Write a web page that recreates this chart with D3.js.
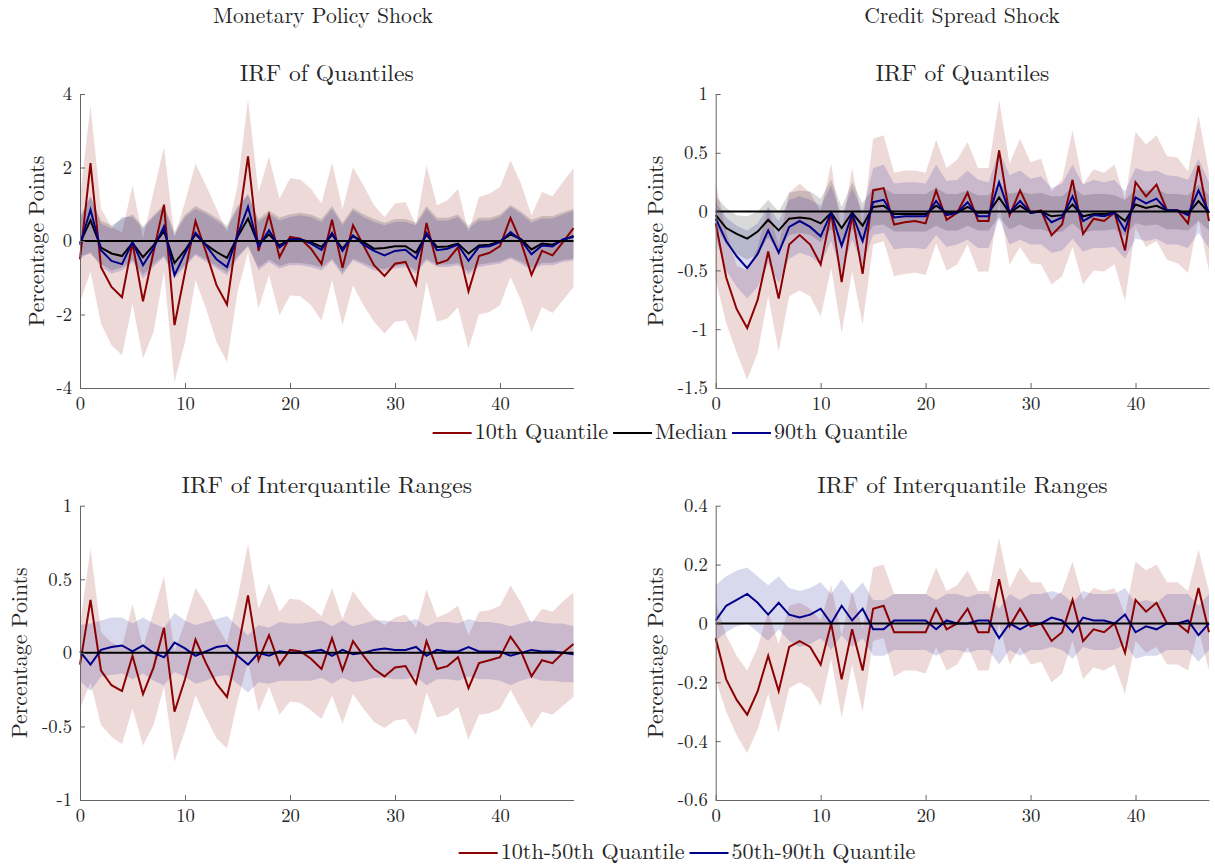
<!DOCTYPE html>
<html>
<head>
<meta charset="utf-8">
<script src="https://cdn.jsdelivr.net/npm/d3@7"></script>
<style>
  body { margin: 0; background: #fff; }
</style>
</head>
<body>
<svg id="chart" width="1215" height="867"></svg>
<script>
// horizons 0..47
const horizon = d3.range(48);

// --- Monetary policy shock: IRF of quantiles ---
const mpQ10 = [-0.5, 2.12, -0.71, -1.25, -1.53, -0.05, -1.64, -0.3, 0.99, -2.29, -0.85, 0.54, -0.3, -1.2, -1.73, 0.29, 2.3, -0.27, 0.72, -0.44, 0.11, 0.06, -0.21, -0.62, 0.58, -0.73, 0.43, -0.12, -0.66, -0.95, -0.62, -0.57, -1.19, 0.49, -0.62, -0.52, -0.17, -1.37, -0.41, -0.32, -0.14, 0.63, -0.03, -0.92, -0.27, -0.39, -0.03, 0.35];
const mpQ50 = [-0.05, 0.56, -0.18, -0.34, -0.41, -0.05, -0.44, -0.12, 0.27, -0.6, -0.25, 0.18, -0.1, -0.3, -0.46, 0.11, 0.61, -0.1, 0.18, -0.12, 0.05, 0.04, -0.03, -0.16, 0.17, -0.21, 0.14, -0.03, -0.21, -0.19, -0.14, -0.14, -0.32, 0.17, -0.16, -0.15, -0.07, -0.34, -0.12, -0.1, -0.01, 0.18, 0.05, -0.23, -0.07, -0.1, 0.02, 0.14];
const mpQ90 = [-0.1, 0.85, -0.25, -0.54, -0.63, -0.03, -0.66, -0.2, 0.4, -0.93, -0.34, 0.22, -0.12, -0.5, -0.71, 0.15, 0.93, -0.15, 0.29, -0.18, 0.05, 0.05, -0.07, -0.24, 0.22, -0.27, 0.15, -0.1, -0.27, -0.39, -0.27, -0.24, -0.48, 0.22, -0.25, -0.21, -0.1, -0.54, -0.16, -0.14, -0.03, 0.24, 0.02, -0.36, -0.12, -0.15, 0.05, 0.11];
const mpQ10Hi = [1.2, 3.69, 0.88, 0.38, 0.24, 1.51, 0.06, 1.33, 2.56, 0.11, 1.06, 2.1, 1.51, 0.88, 0.24, 1.5, 3.85, 1.33, 2.29, 1.15, 1.71, 1.67, 1.42, 1.02, 2.13, 0.88, 2.01, 1.51, 0.97, 0.65, 1.02, 1.06, 0.43, 2.06, 0.97, 1.11, 1.42, 0.24, 1.2, 1.29, 1.47, 2.2, 1.56, 0.7, 1.33, 1.22, 1.61, 1.97];
const mpQ10Lo = [-1.66, -0.84, -2.25, -2.84, -3.11, -1.71, -3.2, -2.48, -0.84, -3.84, -2.75, -1.07, -1.84, -2.75, -3.29, -1.39, -0.3, -1.84, -0.93, -2.02, -1.48, -1.5, -1.75, -2.16, -1.07, -2.29, -1.21, -1.75, -2.2, -2.52, -2.2, -2.16, -2.75, -1.12, -2.2, -2.11, -1.8, -2.93, -2.0, -1.93, -1.75, -0.98, -1.61, -2.48, -1.8, -1.96, -1.61, -1.25];
const mpQ50Hi = [0.68, 1.2, 0.55, 0.42, 0.6, 0.72, 0.4, 0.7, 0.98, 0.25, 0.72, 0.95, 0.8, 0.63, 0.42, 0.95, 1.25, 0.6, 0.82, 0.64, 0.73, 0.77, 0.72, 0.6, 0.95, 0.5, 0.9, 0.73, 0.6, 0.5, 0.6, 0.6, 0.5, 0.95, 0.64, 0.63, 0.72, 0.42, 0.64, 0.63, 0.72, 0.98, 0.8, 0.58, 0.68, 0.68, 0.78, 0.88];
const mpQ50Lo = [-0.4, -0.35, -0.62, -0.8, -0.72, -0.5, -0.92, -0.62, -0.4, -0.95, -0.64, -0.35, -0.5, -0.68, -0.85, -0.42, -0.15, -0.72, -0.5, -0.68, -0.6, -0.6, -0.64, -0.72, -0.48, -0.85, -0.48, -0.6, -0.72, -0.76, -0.68, -0.64, -0.8, -0.48, -0.64, -0.64, -0.6, -0.84, -0.64, -0.6, -0.56, -0.44, -0.56, -0.72, -0.6, -0.6, -0.52, -0.48];
const mpQ90Hi = [0.6, 1.24, 0.47, 0.34, 0.65, 0.65, 0.34, 0.65, 0.93, 0.15, 0.65, 0.88, 0.74, 0.56, 0.34, 0.88, 1.29, 0.52, 0.74, 0.56, 0.65, 0.7, 0.65, 0.52, 0.88, 0.43, 0.83, 0.65, 0.52, 0.43, 0.52, 0.52, 0.43, 0.88, 0.56, 0.56, 0.65, 0.34, 0.56, 0.56, 0.65, 0.93, 0.74, 0.5, 0.61, 0.61, 0.72, 0.82];
const mpQ90Lo = [-0.48, -0.3, -0.71, -0.89, -0.8, -0.57, -1.02, -0.71, -0.44, -1.02, -0.71, -0.39, -0.57, -0.75, -0.93, -0.48, -0.12, -0.8, -0.57, -0.75, -0.66, -0.66, -0.71, -0.8, -0.53, -0.93, -0.53, -0.66, -0.8, -0.84, -0.75, -0.71, -0.89, -0.53, -0.71, -0.71, -0.66, -0.92, -0.71, -0.66, -0.62, -0.48, -0.62, -0.8, -0.66, -0.66, -0.57, -0.53];

// --- Credit spread shock: IRF of quantiles ---
const csQ10 = [-0.1, -0.56, -0.83, -0.99, -0.75, -0.34, -0.74, -0.28, -0.2, -0.28, -0.45, -0.01, -0.6, -0.03, -0.53, 0.18, 0.2, -0.11, -0.09, -0.08, -0.1, 0.18, -0.07, -0.01, 0.16, -0.08, -0.08, 0.52, -0.03, 0.18, -0.01, 0.01, -0.2, -0.11, 0.27, -0.19, -0.06, -0.08, -0.01, -0.33, 0.25, 0.13, 0.23, 0.01, 0.01, -0.1, 0.39, -0.08];
const csQ50 = [-0.03, -0.14, -0.19, -0.23, -0.17, -0.07, -0.16, -0.06, -0.05, -0.06, -0.1, -0.01, -0.14, -0.01, -0.12, 0.04, 0.05, -0.02, -0.02, -0.02, -0.02, 0.05, -0.01, -0.01, 0.04, -0.01, -0.01, 0.12, -0.01, 0.05, -0.01, 0, -0.04, -0.03, 0.06, -0.04, -0.02, -0.02, -0.01, -0.08, 0.06, 0.03, 0.05, 0.01, 0.01, -0.02, 0.09, -0.01];
const csQ90 = [-0.06, -0.25, -0.38, -0.48, -0.36, -0.16, -0.35, -0.13, -0.08, -0.13, -0.21, -0.01, -0.29, -0.02, -0.25, 0.08, 0.1, -0.05, -0.04, -0.04, -0.04, 0.09, -0.03, -0.01, 0.08, -0.04, -0.04, 0.25, -0.01, 0.09, -0.01, 0, -0.09, -0.05, 0.13, -0.08, -0.03, -0.04, -0.01, -0.16, 0.12, 0.07, 0.11, 0.01, 0.01, -0.03, 0.18, -0.01];
const csQ10Hi = [0.25, -0.17, -0.46, -0.5, -0.3, 0.04, -0.29, 0.16, 0.24, 0.16, 0.0, 0.41, -0.17, 0.37, -0.1, 0.62, 0.65, 0.33, 0.35, 0.35, 0.33, 0.61, 0.37, 0.44, 0.59, 0.37, 0.37, 0.95, 0.41, 0.62, 0.42, 0.45, 0.17, 0.27, 0.69, 0.23, 0.36, 0.33, 0.4, 0.1, 0.68, 0.57, 0.65, 0.47, 0.46, 0.34, 0.82, 0.33];
const csQ10Lo = [-0.58, -0.95, -1.2, -1.43, -1.2, -0.72, -1.19, -0.72, -0.67, -0.72, -0.89, -0.48, -1.03, -0.51, -0.96, -0.28, -0.25, -0.55, -0.53, -0.52, -0.54, -0.27, -0.5, -0.45, -0.28, -0.51, -0.51, 0.08, -0.45, -0.3, -0.44, -0.45, -0.62, -0.55, -0.3, -0.62, -0.5, -0.51, -0.45, -0.76, -0.14, -0.3, -0.25, -0.41, -0.44, -0.52, -0.06, -0.51];
const csQ50Hi = [0.13, 0.03, -0.03, -0.04, 0.0, 0.1, 0.0, 0.16, 0.18, 0.17, 0.11, 0.27, 0.04, 0.25, 0.07, 0.2, 0.2, 0.15, 0.15, 0.15, 0.15, 0.2, 0.15, 0.15, 0.18, 0.14, 0.14, 0.25, 0.15, 0.17, 0.15, 0.16, 0.13, 0.13, 0.21, 0.14, 0.15, 0.15, 0.14, 0.1, 0.19, 0.18, 0.19, 0.15, 0.15, 0.14, 0.23, 0.14];
const csQ50Lo = [-0.12, -0.28, -0.36, -0.41, -0.36, -0.22, -0.33, -0.2, -0.18, -0.2, -0.26, -0.15, -0.3, -0.15, -0.27, -0.12, -0.11, -0.17, -0.17, -0.17, -0.17, -0.12, -0.16, -0.16, -0.12, -0.16, -0.16, -0.05, -0.15, -0.11, -0.15, -0.15, -0.18, -0.17, -0.1, -0.18, -0.16, -0.16, -0.15, -0.21, -0.1, -0.12, -0.11, -0.15, -0.15, -0.16, -0.08, -0.16];
const csQ90Hi = [0.08, -0.05, -0.12, -0.16, -0.1, 0.04, -0.08, 0.1, 0.13, 0.1, 0.05, 0.22, -0.03, 0.2, 0.0, 0.37, 0.4, 0.24, 0.25, 0.25, 0.24, 0.4, 0.26, 0.27, 0.35, 0.27, 0.25, 0.52, 0.31, 0.35, 0.28, 0.3, 0.2, 0.24, 0.4, 0.23, 0.27, 0.25, 0.27, 0.17, 0.37, 0.34, 0.35, 0.31, 0.3, 0.27, 0.45, 0.25];
const csQ90Lo = [-0.24, -0.5, -0.64, -0.74, -0.64, -0.44, -0.61, -0.4, -0.35, -0.38, -0.45, -0.25, -0.52, -0.24, -0.45, -0.2, -0.18, -0.32, -0.31, -0.31, -0.32, -0.2, -0.3, -0.28, -0.24, -0.31, -0.31, -0.06, -0.28, -0.24, -0.28, -0.28, -0.35, -0.33, -0.23, -0.34, -0.31, -0.31, -0.3, -0.4, -0.23, -0.25, -0.23, -0.28, -0.28, -0.31, -0.18, -0.31];

// --- Monetary policy shock: IRF of interquantile ranges ---
const mpR1050 = [-0.08, 0.36, -0.12, -0.22, -0.26, -0.02, -0.28, -0.1, 0.17, -0.4, -0.18, 0.09, -0.07, -0.21, -0.3, 0.01, 0.39, -0.05, 0.12, -0.08, 0.02, 0.01, -0.04, -0.11, 0.1, -0.12, 0.08, -0.02, -0.11, -0.16, -0.1, -0.09, -0.21, 0.08, -0.11, -0.09, -0.03, -0.24, -0.07, -0.05, -0.03, 0.11, 0.01, -0.16, -0.05, -0.07, 0.0, 0.06];
const mpR5090 = [0.01, -0.08, 0.02, 0.04, 0.05, 0.01, 0.05, 0.0, -0.03, 0.07, 0.03, -0.02, 0.01, 0.04, 0.05, -0.02, -0.08, 0.0, -0.02, 0.01, 0.0, 0.0, 0.01, 0.02, -0.02, 0.02, -0.01, 0.0, 0.02, 0.03, 0.02, 0.02, 0.04, -0.02, 0.02, 0.01, 0.01, 0.04, 0.01, 0.01, 0.01, -0.02, 0.0, 0.02, 0.01, 0.01, 0.0, -0.01];
const mpR1050Hi = [0.19, 0.71, 0.14, 0.07, 0.04, 0.33, 0.04, 0.28, 0.52, 0.01, 0.21, 0.44, 0.33, 0.19, 0.07, 0.37, 0.74, 0.3, 0.47, 0.28, 0.37, 0.36, 0.31, 0.25, 0.44, 0.23, 0.42, 0.32, 0.24, 0.19, 0.24, 0.26, 0.17, 0.43, 0.24, 0.27, 0.32, 0.12, 0.28, 0.29, 0.32, 0.46, 0.34, 0.2, 0.3, 0.28, 0.35, 0.41];
const mpR1050Lo = [-0.38, -0.2, -0.49, -0.57, -0.62, -0.38, -0.63, -0.49, -0.23, -0.74, -0.53, -0.29, -0.44, -0.58, -0.65, -0.33, -0.06, -0.4, -0.23, -0.42, -0.33, -0.34, -0.39, -0.45, -0.29, -0.48, -0.28, -0.38, -0.47, -0.51, -0.46, -0.45, -0.56, -0.27, -0.44, -0.42, -0.37, -0.59, -0.42, -0.41, -0.38, -0.25, -0.38, -0.51, -0.4, -0.42, -0.36, -0.3];
const mpR5090Hi = [0.19, 0.2, 0.22, 0.24, 0.24, 0.2, 0.24, 0.2, 0.17, 0.27, 0.22, 0.19, 0.21, 0.23, 0.25, 0.18, 0.12, 0.19, 0.17, 0.21, 0.2, 0.2, 0.21, 0.22, 0.18, 0.22, 0.18, 0.2, 0.22, 0.22, 0.21, 0.21, 0.23, 0.18, 0.21, 0.21, 0.2, 0.23, 0.21, 0.21, 0.2, 0.18, 0.2, 0.22, 0.21, 0.2, 0.2, 0.18];
const mpR5090Lo = [-0.19, -0.26, -0.16, -0.15, -0.14, -0.18, -0.14, -0.19, -0.22, -0.13, -0.16, -0.21, -0.19, -0.16, -0.15, -0.21, -0.27, -0.2, -0.21, -0.19, -0.19, -0.19, -0.19, -0.17, -0.21, -0.17, -0.2, -0.19, -0.17, -0.17, -0.18, -0.18, -0.16, -0.22, -0.18, -0.18, -0.19, -0.16, -0.18, -0.18, -0.19, -0.22, -0.19, -0.17, -0.19, -0.19, -0.2, -0.2];

// --- Credit spread shock: IRF of interquantile ranges ---
const csR1050 = [-0.05, -0.19, -0.26, -0.31, -0.23, -0.11, -0.23, -0.08, -0.06, -0.08, -0.14, 0.0, -0.19, -0.02, -0.16, 0.05, 0.06, -0.03, -0.03, -0.03, -0.03, 0.05, -0.02, 0.0, 0.05, -0.03, -0.03, 0.15, -0.01, 0.05, -0.01, 0.0, -0.06, -0.03, 0.08, -0.06, -0.02, -0.03, 0.0, -0.1, 0.08, 0.04, 0.07, 0.0, 0.0, -0.03, 0.12, -0.03];
const csR5090 = [0.01, 0.06, 0.08, 0.1, 0.07, 0.03, 0.07, 0.03, 0.02, 0.03, 0.05, 0.0, 0.06, 0.01, 0.05, -0.02, -0.02, 0.01, 0.01, 0.01, 0.01, -0.02, 0.01, 0.0, 0.0, 0.01, 0.01, -0.05, 0.0, -0.02, 0.0, 0.0, 0.02, 0.01, -0.03, 0.02, 0.01, 0.01, 0.0, 0.03, -0.03, -0.01, -0.02, 0.0, 0.0, 0.01, -0.04, 0.0];
const csR1050Hi = [0.07, -0.04, -0.11, -0.16, -0.08, 0.04, -0.07, 0.06, 0.07, 0.05, 0.01, 0.13, -0.04, 0.11, -0.02, 0.19, 0.2, 0.1, 0.1, 0.1, 0.1, 0.19, 0.11, 0.13, 0.18, 0.11, 0.11, 0.29, 0.12, 0.19, 0.14, 0.14, 0.08, 0.11, 0.21, 0.08, 0.12, 0.11, 0.12, 0.03, 0.21, 0.18, 0.2, 0.14, 0.14, 0.11, 0.25, 0.11];
const csR1050Lo = [-0.19, -0.3, -0.38, -0.44, -0.36, -0.24, -0.37, -0.22, -0.2, -0.22, -0.28, -0.12, -0.32, -0.14, -0.3, -0.06, -0.05, -0.18, -0.16, -0.16, -0.17, -0.08, -0.16, -0.14, -0.08, -0.16, -0.16, 0.0, -0.14, -0.08, -0.14, -0.13, -0.2, -0.17, -0.06, -0.19, -0.15, -0.16, -0.14, -0.24, -0.06, -0.1, -0.08, -0.14, -0.14, -0.16, -0.02, -0.16];
const csR5090Hi = [0.13, 0.16, 0.18, 0.19, 0.16, 0.13, 0.16, 0.12, 0.11, 0.12, 0.14, 0.1, 0.15, 0.1, 0.14, 0.08, 0.08, 0.1, 0.1, 0.1, 0.1, 0.08, 0.1, 0.1, 0.09, 0.1, 0.1, 0.05, 0.1, 0.08, 0.1, 0.1, 0.11, 0.1, 0.07, 0.11, 0.1, 0.1, 0.1, 0.12, 0.07, 0.08, 0.07, 0.1, 0.1, 0.1, 0.06, 0.1];
const csR5090Lo = [-0.06, -0.03, -0.01, 0.0, -0.03, -0.06, -0.02, -0.06, -0.08, -0.07, -0.05, -0.09, -0.04, -0.08, -0.05, -0.11, -0.11, -0.09, -0.09, -0.09, -0.09, -0.11, -0.09, -0.09, -0.1, -0.09, -0.09, -0.14, -0.09, -0.11, -0.09, -0.09, -0.08, -0.09, -0.12, -0.08, -0.09, -0.09, -0.09, -0.07, -0.12, -0.11, -0.11, -0.09, -0.09, -0.09, -0.13, -0.09];

// tick labels
const xTicks = [0, 10, 20, 30, 40];
const mpQTicks = [-4, -2, 0, 2, 4];
const csQTicks = [-1.5, -1, -0.5, 0, 0.5, 1];
const mpRTicks = [-1, -0.5, 0, 0.5, 1];
const csRTicks = [-0.6, -0.4, -0.2, 0, 0.2, 0.4];

const RED = "#8b0000", BLACK = "#000000", BLUE = "#00008b";
const FONT = '"Latin Modern Roman"';

const svg = d3.select("#chart");

// font size that makes `sample` about `width` px wide in the LaTeX-like font
function sizeFor(sample, width) {
  const t = svg.append("text").style("font-family", FONT).attr("font-size", 20).text(sample);
  const w = t.node().getComputedTextLength();
  t.remove();
  return 20 * width / w;
}
const fsHeader = sizeFor("Monetary Policy Shock", 220);
const fsTitle = sizeFor("IRF of Quantiles", 174);
const fsYLabel = sizeFor("Percentage Points", 171);
const fsLegend = sizeFor("10th-50th Quantile", 184);
const fsTick = sizeFor("-0.5", 30);

const colLeft = { x0: 80, x1: 573.5, ylab: 37 };
const colRight = { x0: 715.7, x1: 1209, ylab: 656 };
const rowTop = { y0: 94, y1: 388 };
const rowBot = { y0: 505.7, y1: 800 };

const panels = [
  { col: colLeft, row: rowTop, domain: [-4, 4], ticks: mpQTicks, title: "IRF of Quantiles",
    bands: [[mpQ10Lo, mpQ10Hi, RED], [mpQ50Lo, mpQ50Hi, BLACK], [mpQ90Lo, mpQ90Hi, BLUE]],
    lines: [[mpQ10, RED], [mpQ50, BLACK], [mpQ90, BLUE]] },
  { col: colRight, row: rowTop, domain: [-1.5, 1], ticks: csQTicks, title: "IRF of Quantiles",
    bands: [[csQ10Lo, csQ10Hi, RED], [csQ50Lo, csQ50Hi, BLACK], [csQ90Lo, csQ90Hi, BLUE]],
    lines: [[csQ10, RED], [csQ50, BLACK], [csQ90, BLUE]] },
  { col: { ...colLeft, ylab: 20 }, row: rowBot, domain: [-1, 1], ticks: mpRTicks, title: "IRF of Interquantile Ranges",
    bands: [[mpR1050Lo, mpR1050Hi, RED], [mpR5090Lo, mpR5090Hi, BLUE]],
    lines: [[mpR1050, RED], [mpR5090, BLUE]] },
  { col: colRight, row: rowBot, domain: [-0.6, 0.4], ticks: csRTicks, title: "IRF of Interquantile Ranges",
    bands: [[csR1050Lo, csR1050Hi, RED], [csR5090Lo, csR5090Hi, BLUE]],
    lines: [[csR1050, RED], [csR5090, BLUE]] }
];

const fmt = d => String(+d.toFixed(2));

function drawPanel(p) {
  const x = d3.scaleLinear().domain([0, 47]).range([p.col.x0, p.col.x1]);
  const y = d3.scaleLinear().domain(p.domain).range([p.row.y1, p.row.y0]);
  const g = svg.append("g");

  p.bands.forEach(([lo, hi, color]) => {
    const area = d3.area()
      .x(i => x(i))
      .y0(i => y(lo[i]))
      .y1(i => y(hi[i]));
    g.append("path").datum(horizon)
      .attr("d", area)
      .attr("fill", color)
      .attr("fill-opacity", 0.15);
  });

  p.lines.forEach(([vals, color]) => {
    const line = d3.line().x(i => x(i)).y(i => y(vals[i]));
    g.append("path").datum(horizon)
      .attr("d", line)
      .attr("fill", "none")
      .attr("stroke", color)
      .attr("stroke-width", 2);
  });

  // zero line
  g.append("line")
    .attr("x1", x(0)).attr("x2", x(47))
    .attr("y1", y(0)).attr("y2", y(0))
    .attr("stroke", BLACK).attr("stroke-width", 2);

  const xAxis = g.append("g")
    .attr("transform", `translate(0,${p.row.y1})`)
    .call(d3.axisBottom(x).tickValues(xTicks).tickSize(-5).tickSizeOuter(0).tickPadding(9).tickFormat(fmt));
  const yAxis = g.append("g")
    .attr("transform", `translate(${p.col.x0},0)`)
    .call(d3.axisLeft(y).tickValues(p.ticks).tickSize(-5).tickSizeOuter(0).tickPadding(8).tickFormat(fmt));

  [xAxis, yAxis].forEach(a => {
    a.attr("font-family", null).attr("font-size", null);
    a.select(".domain").attr("stroke", "#666");
    a.selectAll(".tick line").attr("stroke", "#666");
    a.selectAll("text").attr("font-size", fsTick).attr("fill", "#262626");
  });

  g.append("text")
    .attr("x", (p.col.x0 + p.col.x1) / 2)
    .attr("y", p.row.y0 - 13)
    .attr("text-anchor", "middle")
    .attr("font-size", fsTitle)
    .text(p.title);

  g.append("text")
    .attr("transform", `translate(${p.col.ylab},${(p.row.y0 + p.row.y1) / 2}) rotate(-90)`)
    .attr("text-anchor", "middle")
    .attr("dy", "0.3em")
    .attr("font-size", fsYLabel)
    .text("Percentage Points");
}

panels.forEach(drawPanel);

// column headers
svg.append("text").attr("x", 323).attr("y", 23).attr("text-anchor", "middle")
  .attr("font-size", fsHeader).text("Monetary Policy Shock");
svg.append("text").attr("x", 962).attr("y", 23).attr("text-anchor", "middle")
  .attr("font-size", fsHeader).text("Credit Spread Shock");

// legends: items side by side, centred on cx
function drawLegend(items, cx, y) {
  const lg = svg.append("g");
  let pos = 0;
  items.forEach(([label, color]) => {
    lg.append("line").attr("x1", pos).attr("x2", pos + 39).attr("y1", y).attr("y2", y)
      .attr("stroke", color).attr("stroke-width", 2);
    const t = lg.append("text").attr("x", pos + 42).attr("y", y + 6)
      .style("font-family", FONT).attr("font-size", fsLegend).text(label);
    pos += 42 + t.node().getComputedTextLength() + 5;
  });
  lg.attr("transform", `translate(${cx - (pos - 5) / 2},0)`);
}
drawLegend([["10th Quantile", RED], ["Median", BLACK], ["90th Quantile", BLUE]], 670, 433);
drawLegend([["10th-50th Quantile", RED], ["50th-90th Quantile", BLUE]], 687, 853);

svg.selectAll("text").style("font-family", FONT).style("fill", "#262626");
</script>
</body>
</html>
